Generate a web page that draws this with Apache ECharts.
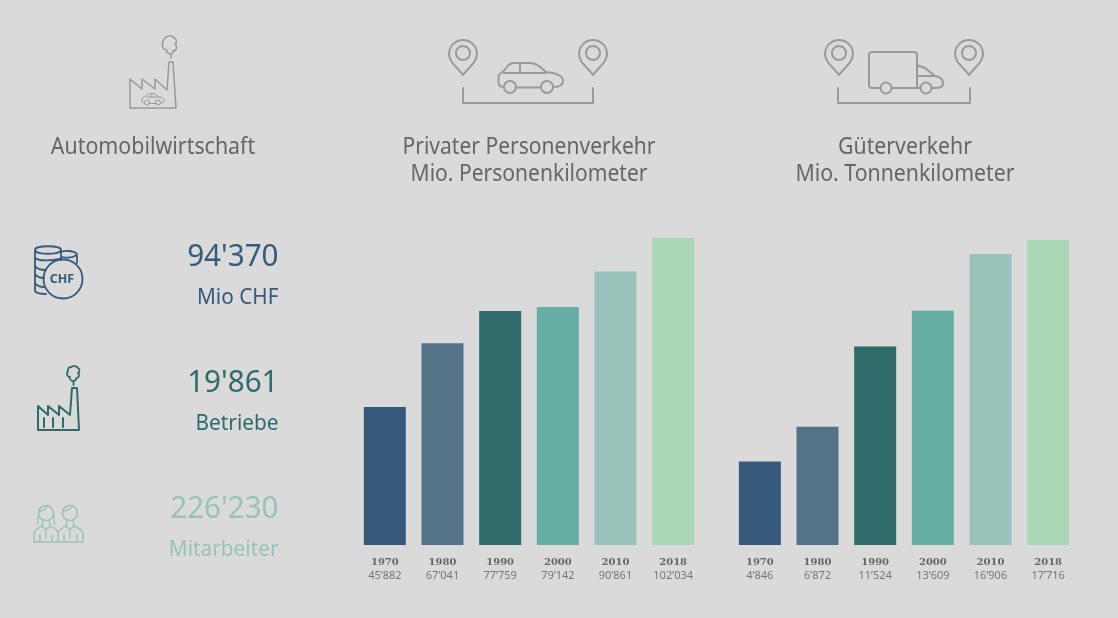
<!DOCTYPE html>
<html><head><meta charset="utf-8">
<style>html,body{margin:0;padding:0;background:#dadada}#c{width:1118px;height:618px}</style>
<script src="https://cdn.jsdelivr.net/npm/echarts@6/dist/echarts.min.js"></script>
</head><body><div id="c"></div>
<script>
const years=['1970','1980','1990','2000','2010','2018'];
const personValues=[45882,67041,77759,79142,90861,102034];
const freightValues=[4846,6872,11524,13609,16906,17716];
const barColors=['#36597c','#547288','#2f6b6b','#66aea4','#98c2ba','#aad8b6'];
const headings=[['Automobilwirtschaft'],['Privater Personenverkehr','Mio. Personenkilometer'],['Güterverkehr','Mio. Tonnenkilometer']];
const statValues=["94'370","19'861","226'230"];
const statUnits=['Mio CHF','Betriebe','Mitarbeiter'];
const statColors=['#36597c','#2f6b6b','#98c2ba'];

const FONT='"Noto Sans"';
const fmt=n=>String(n).replace(/\B(?=(\d{3})+$)/g,'’');
const GREY='#9a9a9a';

let shapeCount=0;
function line(d,color,w){
  const name='iconShape'+(shapeCount++);
  echarts.graphic.registerShape(name,echarts.graphic.extendPath(d));
  return {type:name,silent:true,shape:{},style:{fill:'none',stroke:color,lineWidth:w,lineJoin:'round',lineCap:'round'}};
}
function txt(x,y,t,size,color,align,weight,sx){return {type:'text',silent:true,x:x,y:y,scaleX:sx||1,style:{text:t,fontFamily:FONT,fontSize:size,fontWeight:weight||400,fill:color,align:align,verticalAlign:'middle'}};}
function pin(cx){return `M${cx} 75C${cx-6} 67 ${cx-14} 62 ${cx-14} 54A14 14 0 0 1 ${cx+14} 54C${cx+14} 62 ${cx+6} 67 ${cx} 75Z M${cx+7} 53A7 7 0 1 1 ${cx-7} 53A7 7 0 1 1 ${cx+7} 53Z`;}
function wheel(cx,cy,r){return `M${cx+r} ${cy}A${r} ${r} 0 1 1 ${cx-r} ${cy}A${r} ${r} 0 1 1 ${cx+r} ${cy}Z`;}

const gfx=[];
// top factory
gfx.push(line('M130 108H176L173 62H169L167 90L155 79V89L142 79V89L130 79Z','#999',1.5));
gfx.push(line('M171 58V54C168 54 166 52 167 50C163 50 161 46 163 43C162 40 165 39 165 38C167 35 173 35 174 38C177 39 177 43 175 44C178 47 176 51 173 51C173 53 172 54 171 54','#999',1.5));
gfx.push(line('M145 103H143.5C142 103 142 101 142 99C143 97 145 97 147 94.5C148 93.5 155 93.5 156 94.5L159 97C162 97.5 164 98 164 101C164 103 162 103 160.5 103M157 103.5H149M147 97H158M151 94V97',GREY,1));
gfx.push(line(wheel(147,102.5,2.5)+wheel(158,102.5,2.5),GREY,1));
// pins, brackets
[463,593,839,969].forEach(x=>gfx.push(line(pin(x),GREY,2)));
gfx.push(line('M463 88V103H593V88',GREY,2));
gfx.push(line('M838 88V103H970V88',GREY,2));
// car
gfx.push(line('M504 87C500 87 498.5 85 498.5 82V76C499 73 502 74 507 67C509 64 511 63 514 63H530C534 63 536 64 539 66L546 72C556 73 563 76 563 81C563 85 560 87 553 87M541 87.5H516M504 73H546M520 63V73',GREY,2));
gfx.push(line(wheel(510,87,6)+wheel(547,87,6),GREY,2));
// truck
gfx.push(line('M880 88H872C870 88 869 87 869 85V55C869 53 870 52 872 52H914C916 52 917 53 917 55V88H892M920 88H917M917 65L925 68L935 76C941 77 943 79 943 83C943 87 941 88 932 88M917 76H935',GREY,2));
gfx.push(line(wheel(886,88,5.5)+wheel(926,88,5.5),GREY,2));
// coins
const B=statColors[0];
gfx.push(line('M35 250C35 245 61 245 61 250C61 255 35 255 35 250ZM35 250V291C36 293 41 294 46 294M61 250V260M35 258C38 261 50 261 60 259M35 266C37 269 41 270 46 270M35 274C37 277 40 278 44 278M35 283C37 286 40 287 44 287M61 252C66 250 77 251 77 255V263M62 257C66 258 72 258 77 255',B,1.8));
gfx.push(line(wheel(63,279,19.5),B,1.8));
gfx.push(txt(62,279.5,'CHF',12.5,B,'center',700));
// teal factory
const T=statColors[1];
gfx.push(line('M38 430H79L77 388H72L70 415L59 406V415L48 406V415L38 406ZM44 418V427M53 418V427M63 418V427',T,2));
gfx.push(line('M73.5 385V381C71 381 69 379 70 377C67 377 66 373 68 371.5C67 369 69 367 71 367C73 365.5 77 366 78 368C80 369 80 372 78 373C80 375 79 378 76.5 378C76 380 75 381 73.5 381',T,1.8));
// people
const P=statColors[2];
gfx.push(line(wheel(46,513,7.5)+wheel(70,513,7.5),P,1.6));
gfx.push(line('M34 542V534C34 529 39 528 42 526L46 530L50 526C54 528 58 529 58 534V542M58 534C58 529 63 528 66 526L70 530L74 526C78 528 83 529 83 534V542H34M42 526L43 520M50 526L49 520M66 526L67 520M74 526L73 520M40 542V535M52 542V535M64 542V535M77 542V535M46 530V538M70 530V538M39 511C43 511 46 509 47 506M63 511C67 511 70 510 72 506M38.5 514L37.5 524M53.5 514L54.5 524',P,1.4));

// text
const headingScale=[0.93,0.915,0.925];
headings.forEach((lines,k)=>lines.forEach((t,i)=>gfx.push(txt([153,529,905][k],147+27*i,t,23,'#666','center',400,headingScale[k]))));
statValues.forEach((t,i)=>{
  gfx.push(txt(278.5,257+126*i,t,31,statColors[i],'right',400,0.955));
  gfx.push(txt(278.5,298+126*i,statUnits[i],22,statColors[i],'right',400,0.945));
});

function axis(gi,vals){return {gridIndex:gi,type:'category',data:years,axisLine:{show:false},axisTick:{show:false},
  axisLabel:{interval:0,margin:10,lineHeight:14,formatter:(v,i)=>`{y|${v}}\n{v|${fmt(vals[i])}}`,
   rich:{y:{fontFamily:'"DejaVu Serif"',fontWeight:700,fontSize:10,color:'#666',lineHeight:14,align:'center'},
         v:{fontFamily:FONT,fontSize:11,color:'#777',lineHeight:14,align:'center'}}}};}
function bars(i,vals){return {type:'bar',xAxisIndex:i,yAxisIndex:i,barWidth:42,silent:true,
  data:vals.map((v,k)=>({value:v,itemStyle:{color:barColors[k]}}))};}

const chart=echarts.init(document.getElementById('c'),null,{renderer:'canvas'});
chart.setOption({
  animation:false,backgroundColor:'#dadada',
  grid:[{left:356,width:346,top:238,height:307},{left:731,width:346,top:240,height:305}],
  xAxis:[axis(0,personValues),axis(1,freightValues)],
  yAxis:[{gridIndex:0,type:'value',min:0,max:102034,show:false},{gridIndex:1,type:'value',min:0,max:17716,show:false}],
  series:[bars(0,personValues),bars(1,freightValues)],
  graphic:gfx
});
</script></body></html>
